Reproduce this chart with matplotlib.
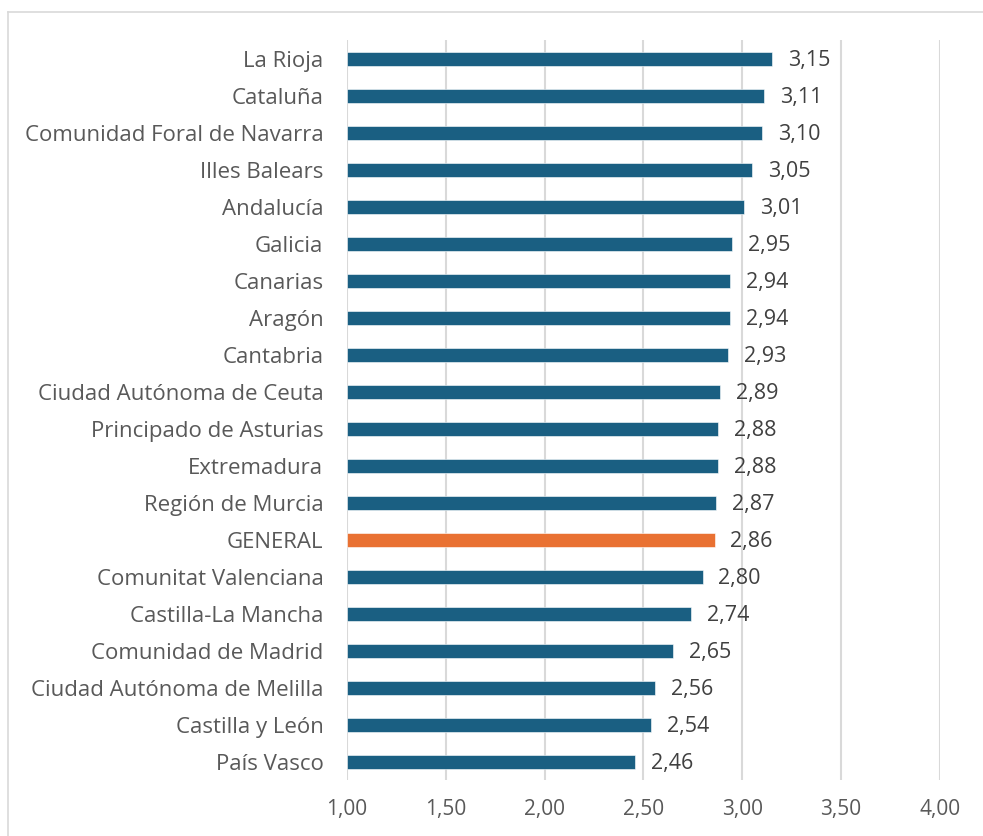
import matplotlib.pyplot as plt
from matplotlib.lines import Line2D

# Datos
regiones = ['La Rioja', 'Cataluña', 'Comunidad Foral de Navarra', 'Illes Balears',
            'Andalucía', 'Galicia', 'Canarias', 'Aragón', 'Cantabria',
            'Ciudad Autónoma de Ceuta', 'Principado de Asturias', 'Extremadura',
            'Región de Murcia', 'GENERAL', 'Comunitat Valenciana', 'Castilla-La Mancha',
            'Comunidad de Madrid', 'Ciudad Autónoma de Melilla', 'Castilla y León',
            'País Vasco']
valores = [3.15, 3.11, 3.10, 3.05, 3.01, 2.95, 2.94, 2.94, 2.93, 2.89, 2.88, 2.88,
           2.87, 2.86, 2.80, 2.74, 2.65, 2.56, 2.54, 2.46]
ticks_x = [1.0, 1.5, 2.0, 2.5, 3.0, 3.5, 4.0]

plt.rcParams['font.family'] = ['Open Sans', 'DejaVu Sans']

fig = plt.figure(figsize=(9.83, 8.36), dpi=100)
ax = fig.add_axes([0.353, 0.0664, 0.603, 0.8852])

colores = ['#E97132' if r == 'GENERAL' else '#1A5F82' for r in regiones]
y = list(range(len(regiones)))
base = 1.0
ax.barh(y, [v - base for v in valores], left=base, height=0.38, color=colores,
        edgecolor='white', linewidth=0.4, zorder=3)

for yi, v in zip(y, valores):
    ax.text(v + 0.08, yi + 0.05, f'{v:.2f}'.replace('.', ','), va='center', ha='left',
            fontsize=15.5, color='#404040')

ax.set_xlim(1.0, 4.0)
ax.set_ylim(len(regiones) - 0.5, -0.5)
ax.set_xticks(ticks_x)
ax.set_xticklabels([f'{t:.2f}'.replace('.', ',') for t in ticks_x])
ax.set_yticks(y)
ax.set_yticklabels(regiones)
ax.grid(axis='x', color='#D9D9D9', linewidth=1.5, zorder=0)
ax.tick_params(axis='both', length=0, labelcolor='#595959')
ax.tick_params(axis='x', pad=13, labelsize=15)
ax.tick_params(axis='y', pad=17, labelsize=16)
for s in ax.spines.values():
    s.set_visible(False)

# borde del gráfico
fig.add_artist(Line2D([8 / 983, 1], [1 - 12 / 836, 1 - 12 / 836], color='#D9D9D9', lw=1.2))
fig.add_artist(Line2D([8 / 983, 8 / 983], [0, 1 - 12 / 836], color='#D9D9D9', lw=1.2))

fig.savefig('out.png', dpi=100)
